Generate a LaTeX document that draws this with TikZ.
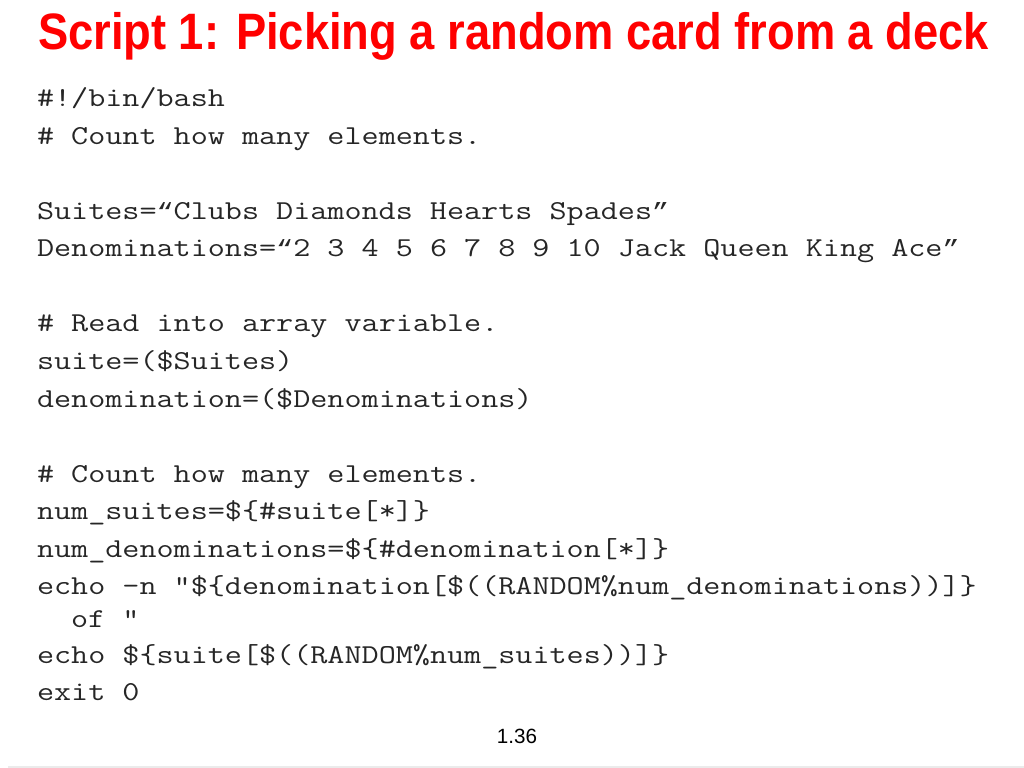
\documentclass[tikz,border=0pt]{standalone}
\usepackage{fontspec}
\setmainfont{Liberation Sans}
\setmonofont{Latin Modern Mono}
\newfontfamily\quotefont{Liberation Mono}
\definecolor{titlered}{HTML}{FF0000}
\definecolor{codegray}{HTML}{262626}
\definecolor{stripgray}{HTML}{EBEBEB}
\newcommand{\codetext}[1]{\scalebox{1}[0.823]{#1}}
\newcommand{\codeoq}{{\quotefont\fontsize{20}{24}\selectfont “}}
\newcommand{\codecq}{{\quotefont\fontsize{20}{24}\selectfont ”}}
\tikzset{
  codeline/.style={anchor=base west, inner sep=0pt, outer sep=0pt, font=\ttfamily\fontsize{23.33}{26}\selectfont, text=codegray},
  titletext/.style={anchor=base west, inner sep=0pt, outer sep=0pt, text=titlered},
  pagenum/.style={anchor=base, inner sep=0pt, font=\fontsize{14.5}{17}\selectfont, text=black}
}
\begin{document}
\begin{tikzpicture}[x=0.703125pt,y=-0.703125pt]
\useasboundingbox[fill=white] (0,0) rectangle (1024,768);
\fill[stripgray] (8,765.5) rectangle (1024,768);
\node[titletext] (title) at (38,49.5) {\scalebox{0.885}[1]{\fontsize{36}{40}\selectfont\bfseries Script 1: Picking a random card from a deck}};
\node[codeline] (l1) at (37,107) {\codetext{\#!/bin/bash}};
\node[codeline] (l2) at (37,144.5) {\codetext{\# Count how many elements.}};
\node[codeline] (l3) at (37,219.5) {\codetext{Suites=\codeoq Clubs Diamonds Hearts Spades\codecq}};
\node[codeline] (l4) at (37,257) {\codetext{Denominations=\codeoq 2 3 4 5 6 7 8 9 10 Jack Queen King Ace\codecq}};
\node[codeline] (l5) at (37,332) {\codetext{\# Read into array variable.}};
\node[codeline] (l6) at (37,369.5) {\codetext{suite=(\$Suites)}};
\node[codeline] (l7) at (37,407) {\codetext{denomination=(\$Denominations)}};
\node[codeline] (l8) at (37,482) {\codetext{\# Count how many elements.}};
\node[codeline] (l9) at (37,519.5) {\codetext{num\_suites=\$\{\#suite[*]\}}};
\node[codeline] (l10) at (37,557) {\codetext{num\_denominations=\$\{\#denomination[*]\}}};
\node[codeline] (l11) at (37,594.5) {\codetext{echo -n "\$\{denomination[\$((RANDOM\%num\_denominations))]\}}};
\node[codeline] (l12) at (71.1,627) {\codetext{of "}};
\node[codeline] (l13) at (37,663.5) {\codetext{echo \$\{suite[\$((RANDOM\%num\_suites))]\}}};
\node[codeline] (l14) at (37,700) {\codetext{exit 0}};
\node[pagenum] (pg) at (517,743) {1.36};
\end{tikzpicture}
\end{document}
